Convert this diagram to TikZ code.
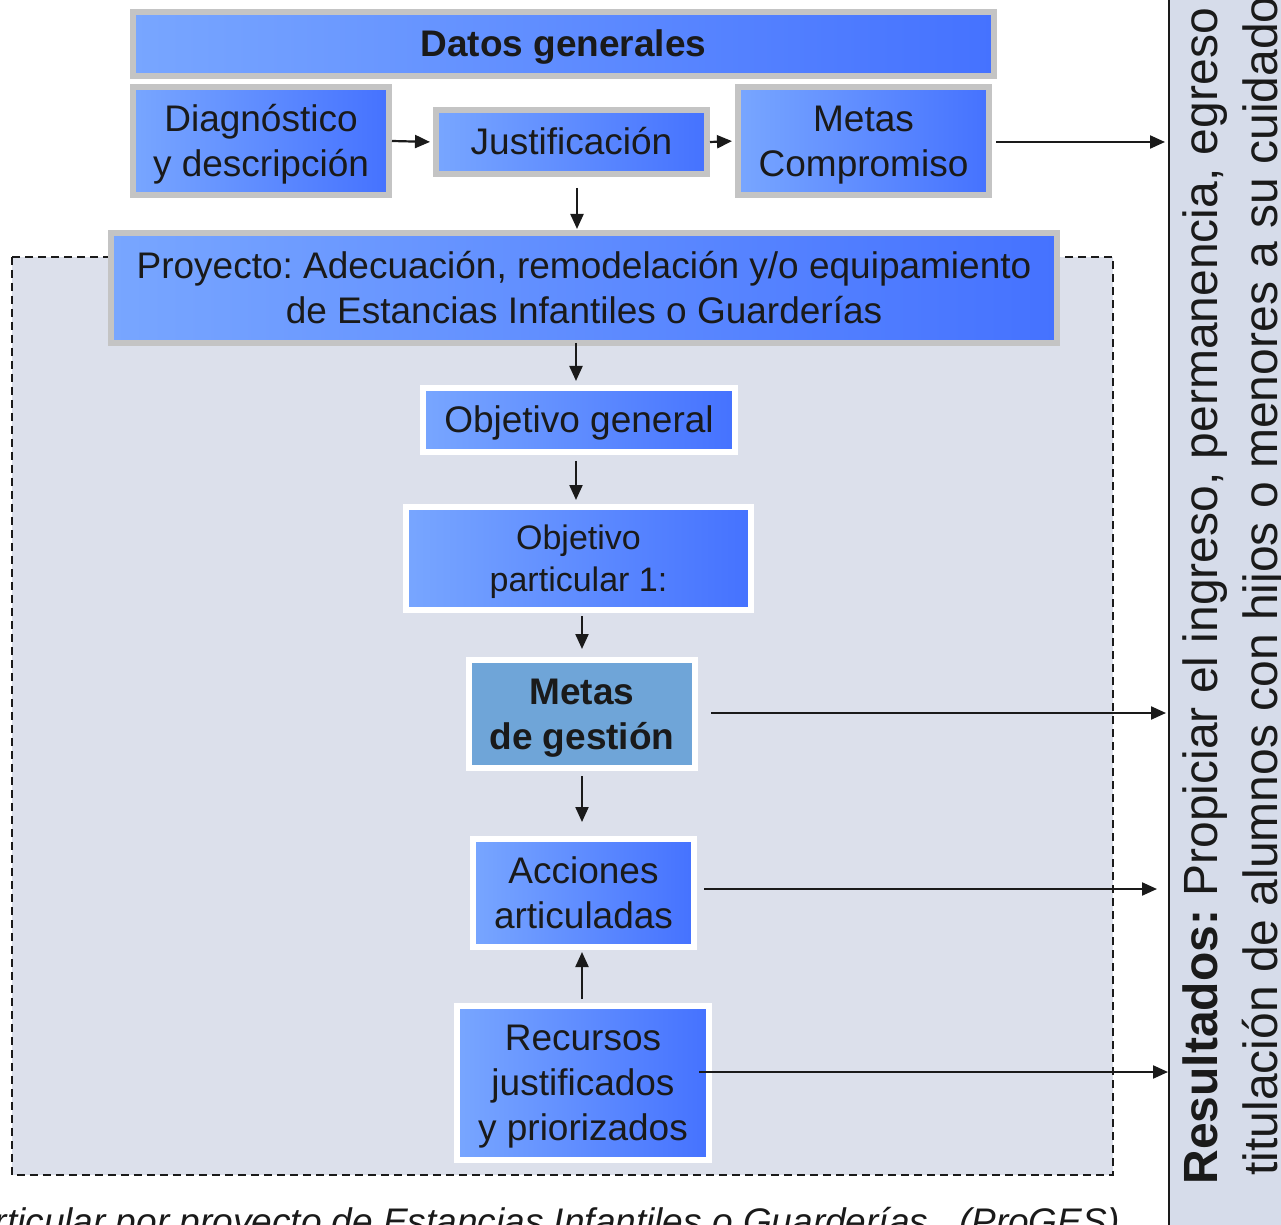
\documentclass[tikz,border=0pt]{standalone}
\usepackage{fontspec}
\setmainfont{Liberation Sans}
\usetikzlibrary{arrows.meta}
\frenchspacing
\definecolor{bla}{RGB}{120,166,255}
\definecolor{blb}{RGB}{69,114,255}
\definecolor{bordgray}{RGB}{196,196,196}
\definecolor{dashfill}{RGB}{220,224,235}
\definecolor{panelfill}{RGB}{214,220,234}
\definecolor{metgfill}{RGB}{111,165,216}
\definecolor{txt}{RGB}{26,26,26}
\newcommand\myTS{\rule{0pt}{0.905em}}
\newcommand\myBS{\rule[-0.212em]{0pt}{0pt}}
\begin{document}
\begin{tikzpicture}[x=0.5pt,y=-0.5pt,
  boxbase/.style={rectangle, inner sep=0pt, align=center, text=txt, line width=3pt,
    font=\fontsize{18.5}{22.5}\selectfont},
  graybox/.style={boxbase, left color=bla, right color=blb, draw=bordgray},
  whitebox/.style={boxbase, left color=bla, right color=blb, draw=white},
  arr/.style={draw=txt, line width=1.1pt, -{Triangle[length=7.5pt,width=6.5pt]}},
]
\useasboundingbox (0,0) rectangle (1281,1225);
\clip (0,0) rectangle (1281,1225);
\fill[white] (0,0) rectangle (1281,1225);

% results panel
\node[rectangle, draw=txt, line width=1pt, fill=panelfill, minimum width=115.5pt, minimum height=635pt, inner sep=0pt] (res) at (1284.5,612.5) {};
\node[rotate=90, anchor=base west, inner sep=0pt, text=txt, font=\fontsize{24}{30}\selectfont] (r1) at (1217,1185) {\textbf{Resultados:} Propiciar el ingreso, permanencia, egreso};
\node[rotate=90, anchor=base west, inner sep=0pt, text=txt, font=\fontsize{24}{30}\selectfont] (r2) at (1277,1176) {titulación de alumnos con hijos o menores a su cuidado};

% dashed project area
\draw[fill=dashfill, draw=txt, line width=0.75pt, dash pattern=on 4pt off 2.5pt] (12,257) rectangle (1113,1175);

% top boxes
\node[graybox, minimum width=430.5pt, minimum height=32pt, font=\fontsize{18.5}{22.5}\selectfont\bfseries] (datos) at (563.5,44) {\myTS Datos generales\myBS};
\node[graybox, minimum width=128pt, minimum height=54pt] (diag) at (261,141) {\myTS Diagnóstico\\y descripción\myBS};
\node[graybox, minimum width=135.5pt, minimum height=32pt] (just) at (571.5,142) {\myTS Justificación\myBS};
\node[graybox, minimum width=125.5pt, minimum height=54pt] (metc) at (863.5,141) {\myTS Metas\\Compromiso\myBS};

\node[graybox, minimum width=473pt, minimum height=55pt] (proy) at (584,288) {\myTS Proyecto: Adecuación, remodelación y/o equipamiento\\de Estancias Infantiles o Guarderías\myBS};

% inner boxes
\node[whitebox, minimum width=156pt, minimum height=32pt] (objg) at (579,420) {\myTS Objetivo general\myBS};
\node[whitebox, minimum width=172.5pt, minimum height=51.5pt, font=\fontsize{17}{21}\selectfont] (objp) at (578.5,558.5) {\myTS Objetivo\\particular 1:\myBS};
\node[boxbase, draw=white, fill=metgfill, minimum width=113pt, minimum height=54pt, font=\fontsize{18.5}{22.5}\selectfont\bfseries] (metg) at (582,714) {\myTS Metas\\de gestión\myBS};
\node[whitebox, minimum width=110.5pt, minimum height=54pt] (acc) at (583.5,893) {\myTS Acciones\\articuladas\myBS};
\node[whitebox, minimum width=126pt, minimum height=77pt] (rec) at (583,1083) {\myTS Recursos\\justificados\\y priorizados\myBS};

% connectors
\draw[arr, shorten >=1.5pt] (diag.east) -- (just.west);
\draw[arr, shorten >=1.5pt] (just.east) -- (metc.west);
\draw[arr, shorten >=1.5pt] ([shift={(4,1)}]metc.east) coordinate (c1) -- (c1 -| res.west);
\draw[arr, shorten >=0.5pt] ([shift={(5.5,11)}]just.south) coordinate (c2) -- (c2 |- proy.north);
\draw[arr, shorten >=2pt] ([shift={(-8,-3)}]proy.south) coordinate (c3) -- (c3 |- objg.north);
\draw[arr, shorten >=2pt] ([shift={(-3,6)}]objg.south) coordinate (c4) -- (c4 |- objp.north);
\draw[arr, shorten >=4pt] ([shift={(3.5,3)}]objp.south) coordinate (c5) -- (c5 |- metg.north);
\draw[arr, shorten >=7pt] ([shift={(0,5)}]metg.south) coordinate (c6) -- (c6 |- acc.north);
\draw[arr, shorten >=1pt] ([shift={(-1,-4)}]rec.north) coordinate (c7) -- (c7 |- acc.south);
\draw[arr, shorten >=1pt] ([shift={(13,-1)}]metg.east) coordinate (c8) -- (c8 -| res.west);
\draw[arr, shorten >=5.5pt] ([shift={(7,-4)}]acc.east) coordinate (c9) -- (c9 -| res.west);
\draw[arr] ([shift={(-13,-11)}]rec.east) coordinate (c10) -- (c10 -| res.west);

% caption (cut by the page edges)
\node[anchor=base east, inner sep=0pt, text=txt, font=\fontsize{18.5}{22.5}\selectfont\itshape] (cap) at (1120,1234) {particular por proyecto de Estancias Infantiles o Guarderías.\ \ (ProGES)};
\end{tikzpicture}
\end{document}
